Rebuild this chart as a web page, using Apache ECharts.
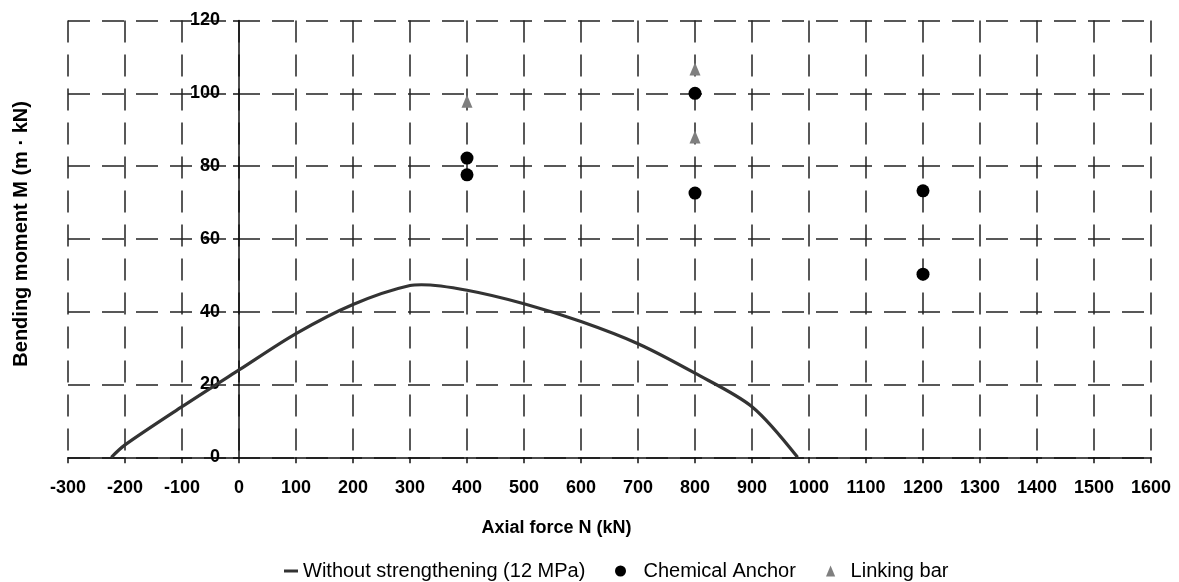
<!DOCTYPE html>
<html>
<head>
<meta charset="utf-8">
<script src="https://cdn.jsdelivr.net/npm/echarts@6/dist/echarts.min.js"></script>
<style>
html,body{margin:0;padding:0;background:#fff;}
#c{width:1179px;height:582px;}
</style>
</head>
<body>
<div id="c"></div>
<script>
// Without strengthening (12 MPa): interaction curve
const curveN = [-224, -200, -100, 0, 100, 200, 300, 320, 400, 500, 600, 700, 800, 900, 980];
const curveM = [0, 3.4, 13.9, 24, 34, 42, 47.2, 47.4, 45.9, 42.2, 37.3, 31.2, 23.1, 13.9, 0];
// Chemical Anchor test points
const anchorN = [400, 400, 800, 800, 1200, 1200];
const anchorM = [82.2, 77.6, 100, 72.6, 73.2, 50.3];
// Linking bar test points
const linkN = [400, 800, 800];
const linkM = [97.8, 106.7, 88];
const seriesNames = ['Without strengthening (12 MPa)', 'Chemical Anchor', 'Linking bar'];
const xTitle = 'Axial force N (kN)';
const yTitle = 'Bending moment M (m · kN)';

const zip = (a, b) => a.map((v, i) => [v, b[i]]);
const triPath = 'path://M5,0 L10,12 L0,12 Z';
const linePath = 'path://M0,0 L14,0 L14,3 L0,3 Z';
const FONT = 'Liberation Sans, Arial, sans-serif';
const gridDash = { color: '#222', width: 1.5, type: [22, 12] };
const X_MIN = -300, X_MAX = 1600;
const GRID_L = 68, GRID_R = 28;
const plotW = 1179 - GRID_L - GRID_R;
// offset that places the label-only y axis on N = 0
const zeroOffset = -plotW * (0 - X_MIN) / (X_MAX - X_MIN);

const chart = echarts.init(document.getElementById('c'), null, { renderer: 'canvas' });
chart.setOption({
  animation: false,
  backgroundColor: '#fff',
  grid: { left: GRID_L, right: GRID_R, top: 20.5, bottom: 124.7, containLabel: false, outerBoundsMode: 'none' },
  xAxis: {
    type: 'value', min: X_MIN, max: X_MAX, interval: 100,
    name: xTitle, nameLocation: 'middle', nameGap: 62,
    nameTextStyle: { fontFamily: FONT, fontWeight: 'bold', fontSize: 18, color: '#000', padding: [0, 106, 0, 0] },
    axisLine: { show: true, lineStyle: { color: '#111', width: 1.5 } },
    axisTick: { show: true, length: 6, lineStyle: { color: '#111', width: 1.5 } },
    axisLabel: { fontFamily: FONT, fontWeight: 'bold', fontSize: 18, color: '#000', margin: 22,
      formatter: v => String(v) },
    splitLine: { show: true, lineStyle: gridDash }
  },
  yAxis: [{
    type: 'value', min: 0, max: 120, interval: 20,
    name: yTitle, nameLocation: 'middle', nameGap: 37,
    nameTextStyle: { fontFamily: FONT, fontWeight: 'bold', fontSize: 20, color: '#000', padding: [0, 0, 0, 10] },
    axisLine: { show: true, onZero: true, lineStyle: { color: '#111', width: 1.5 } },
    axisTick: { show: true, length: 6, lineStyle: { color: '#111', width: 1.5 } },
    axisLabel: { show: false },
    splitLine: { show: true, lineStyle: gridDash }
  }, {
    type: 'value', min: 0, max: 120, interval: 20, position: 'left', offset: zeroOffset,
    axisLine: { show: false, onZero: false }, axisTick: { show: false }, splitLine: { show: false },
    axisLabel: { fontFamily: FONT, fontWeight: 'bold', fontSize: 18, color: '#000', margin: 19 }
  }],
  legend: [
    { data: [{ name: seriesNames[0], icon: linePath }], left: 279, top: 556, itemWidth: 14, itemHeight: 12,
      textStyle: { fontFamily: FONT, fontSize: 20, color: '#000' } },
    { data: [{ name: seriesNames[1], icon: 'circle' }], left: 610, top: 556, itemWidth: 36, itemHeight: 11,
      textStyle: { fontFamily: FONT, fontSize: 20, color: '#000' } },
    { data: [{ name: seriesNames[2], icon: triPath }], left: 821, top: 556, itemWidth: 30, itemHeight: 11,
      textStyle: { fontFamily: FONT, fontSize: 20, color: '#000' } }
  ],
  series: [
    { name: seriesNames[0], type: 'line', data: zip(curveN, curveM), smooth: 0.3, showSymbol: false,
      symbol: 'none', lineStyle: { color: '#333', width: 3.2 }, itemStyle: { color: '#333' }, z: 3 },
    { name: seriesNames[1], type: 'scatter', data: zip(anchorN, anchorM), symbol: 'circle', symbolSize: 13,
      itemStyle: { color: '#000', opacity: 1 }, z: 4 },
    { name: seriesNames[2], type: 'scatter', data: zip(linkN, linkM), symbol: triPath, symbolSize: [11, 13],
      itemStyle: { color: '#7f7f7f', opacity: 1 }, z: 4 }
  ]
});
</script>
</body>
</html>
